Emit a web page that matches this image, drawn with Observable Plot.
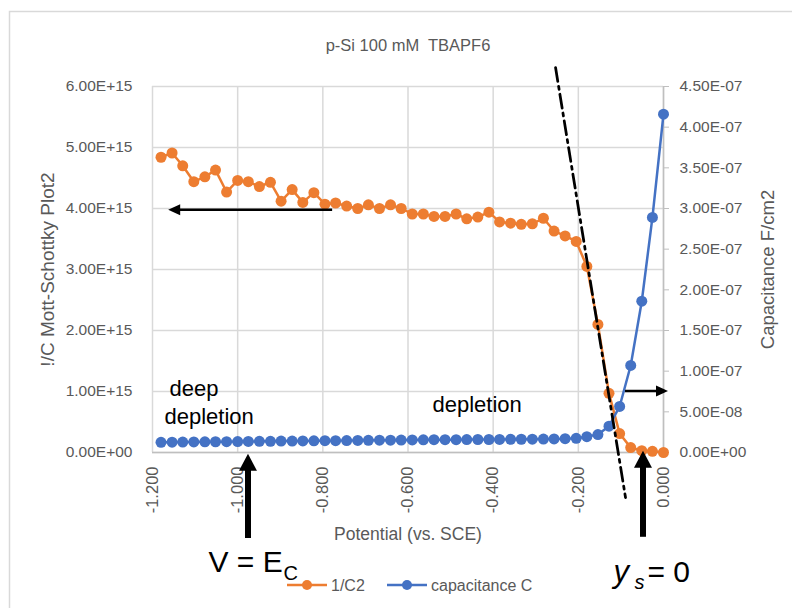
<!DOCTYPE html>
<html><head><meta charset="utf-8">
<script src="https://cdn.jsdelivr.net/npm/d3@7"></script>
<script src="https://cdn.jsdelivr.net/npm/@observablehq/plot@0.6"></script>
<style>
html,body{margin:0;padding:0;background:#fff;}
svg text{white-space:pre;}
</style></head><body><div id="chart"></div>
<script>
// ---------- data ----------
const potential = [-1.180,-1.154,-1.129,-1.103,-1.077,-1.052,-1.026,-1.000,-0.975,-0.949,-0.923,-0.898,-0.872,-0.847,-0.821,-0.795,-0.770,-0.744,-0.718,-0.693,-0.667,-0.641,-0.616,-0.590,-0.564,-0.539,-0.513,-0.487,-0.462,-0.436,-0.410,-0.385,-0.359,-0.334,-0.308,-0.282,-0.257,-0.231,-0.205,-0.180,-0.154,-0.128,-0.103,-0.077,-0.051,-0.026,0.000];
const invC2 = [4.84e15,4.91e15,4.70e15,4.44e15,4.52e15,4.63e15,4.27e15,4.46e15,4.44e15,4.36e15,4.43e15,4.12e15,4.31e15,4.10e15,4.26e15,4.07e15,4.09e15,4.04e15,4.00e15,4.06e15,4.00e15,4.06e15,4.00e15,3.91e15,3.91e15,3.87e15,3.87e15,3.91e15,3.83e15,3.86e15,3.94e15,3.78e15,3.76e15,3.74e15,3.75e15,3.84e15,3.63e15,3.55e15,3.46e15,3.05e15,2.10e15,0.97e15,0.31e15,0.08e15,0.03e15,0.02e15,0.00];
const capacitance = [1.25e-8,1.27e-8,1.28e-8,1.30e-8,1.31e-8,1.32e-8,1.33e-8,1.35e-8,1.36e-8,1.37e-8,1.38e-8,1.40e-8,1.41e-8,1.42e-8,1.44e-8,1.45e-8,1.46e-8,1.47e-8,1.48e-8,1.50e-8,1.51e-8,1.52e-8,1.53e-8,1.55e-8,1.56e-8,1.57e-8,1.58e-8,1.58e-8,1.59e-8,1.60e-8,1.60e-8,1.61e-8,1.62e-8,1.63e-8,1.64e-8,1.65e-8,1.67e-8,1.70e-8,1.75e-8,1.95e-8,2.21e-8,3.23e-8,5.66e-8,10.7e-8,18.6e-8,28.9e-8,41.6e-8];
const seriesNames = ["1/C2", "capacitance C"];
const leftTicks = [0, 1e15, 2e15, 3e15, 4e15, 5e15, 6e15];
const rightTicks = [0, 5e-8, 1e-7, 1.5e-7, 2e-7, 2.5e-7, 3e-7, 3.5e-7, 4e-7, 4.5e-7];
const xTicks = [-1.2, -1.0, -0.8, -0.6, -0.4, -0.2, 0];
const titleText = "p-Si 100 mM  TBAPF6";
const xLabel = "Potential (vs. SCE)";
const yLabel = "!/C Mott-Schottky Plot2";
const y2Label = "Capacitance F/cm2";
// dash-dot tangent line (potential, 1/C2)
const tangentLine = [{potential: -0.2535, value: 6.31e15}, {potential: -0.0892, value: -0.738e15}];
// annotation arrows (data units, tail -> tip)
const arrows = [
  {x1: -0.777, y1: 3.97e15, x2: -1.162, y2: 3.97e15, kind: "thin"},
  {x1: -0.0892, y1: 1.0e15, x2: 0.0118, y2: 1.0e15, kind: "thin"},
  {x1: -0.9746, y1: -1.41e15, x2: -0.9746, y2: -0.03e15, kind: "thick"},
  {x1: -0.047, y1: -1.39e15, x2: -0.047, y2: 0.02e15, kind: "thick"}
];
// annotation texts (data units; y = baseline)
const notes = [
  {text: "deep", x: -1.160, y: 0.934e15, kind: "mid"},
  {text: "depletion", x: -1.1718, y: 0.475e15, kind: "mid"},
  {text: "depletion", x: -0.5424, y: 0.672e15, kind: "mid"},
  {text: "V = E", x: -1.0685, y: -1.951e15, kind: "big"},
  {text: "C", x: -0.8924, y: -2.098e15, kind: "sub"},
  {text: "y", x: -0.1174, y: -2.115e15, kind: "bigItalic"},
  {text: "s", x: -0.0681, y: -2.23e15, kind: "subItalic"},
  {text: "= 0", x: -0.0376, y: -2.115e15, kind: "big"}
];

// ---------- styles ----------
const FONT = "'Liberation Sans', Arial, sans-serif";
const ORANGE = "#ED7D31", BLUE = "#4472C4", GRID = "#d9d9d9", AXIS = "#bfbfbf", TXT = "#595959";
const K = 6e15 / 4.5e-7; // secondary -> primary units
const arrowStyle = {thin: {width: 2.5, head: 12, headWidth: 11}, thick: {width: 6, head: 17, headWidth: 18}};
const noteStyle = {
  mid: {fontSize: 22, fontStyle: "normal"},
  big: {fontSize: 30, fontStyle: "normal"},
  sub: {fontSize: 20, fontStyle: "normal"},
  bigItalic: {fontSize: 31, fontStyle: "italic"},
  subItalic: {fontSize: 20, fontStyle: "italic"}
};

function fmtExp(v) {
  if (Math.abs(v) < 1e-30) return "0.00E+00";
  const [m, e] = v.toExponential(2).split("e");
  const n = +e;
  return m + "E" + (n < 0 ? "-" : "+") + String(Math.abs(n)).padStart(2, "0");
}

const rows = potential.map((p, i) => ({potential: p, inv: invC2[i], cap: capacitance[i]}));

function borderMark() {
  const g = d3.create("svg:g");
  g.append("rect").attr("x", 9.5).attr("y", 11.5).attr("width", 900).attr("height", 900)
    .attr("fill", "none").attr("stroke", GRID).attr("stroke-width", 1.5);
  return g.node();
}

function arrowsMark(index, scales) {
  const g = d3.create("svg:g");
  for (const a of arrows) {
    const s = arrowStyle[a.kind];
    const x1 = scales.x(a.x1), y1 = scales.y(a.y1), x2 = scales.x(a.x2), y2 = scales.y(a.y2);
    const dx = x2 - x1, dy = y2 - y1, L = Math.hypot(dx, dy), ux = dx / L, uy = dy / L;
    const bx = x2 - ux * s.head, by = y2 - uy * s.head, hw = s.headWidth / 2;
    g.append("line").attr("x1", x1).attr("y1", y1).attr("x2", bx + ux * 1).attr("y2", by + uy * 1)
      .attr("stroke", "black").attr("stroke-width", s.width);
    g.append("path")
      .attr("d", `M${x2},${y2}L${bx - uy * hw},${by + ux * hw}L${bx + uy * hw},${by - ux * hw}Z`)
      .attr("fill", "black");
  }
  return g.node();
}

function legendMark() {
  const g = d3.create("svg:g").attr("font-family", FONT).attr("font-size", 16).attr("fill", TXT)
    .attr("text-anchor", "start");
  const colors = [ORANGE, BLUE];
  const starts = [287, 387];
  const yy = 585;
  seriesNames.forEach((name, i) => {
    const x0 = starts[i];
    g.append("line").attr("x1", x0).attr("x2", x0 + 40).attr("y1", yy).attr("y2", yy)
      .attr("stroke", colors[i]).attr("stroke-width", 2.5);
    g.append("circle").attr("cx", x0 + 20).attr("cy", yy).attr("r", 5).attr("fill", colors[i]);
    g.append("text").attr("x", x0 + 44).attr("y", yy).attr("dy", "0.35em").attr("text-anchor", "start").text(name);
  });
  return g.node();
}

const noteMarks = Object.keys(noteStyle).map(k =>
  Plot.text(notes.filter(d => d.kind === k), {
    x: "x", y: "y", text: "text", textAnchor: "start", lineAnchor: "bottom",
    fontSize: noteStyle[k].fontSize, fontStyle: noteStyle[k].fontStyle, fill: "black", fontFamily: FONT
  })
);

const chart = Plot.plot({
  width: 792, height: 608,
  marginLeft: 152, marginRight: 129, marginTop: 86, marginBottom: 156,
  x: {domain: [-1.2, 0]},
  y: {domain: [0, 6e15]},
  style: {fontFamily: FONT, fontSize: "15.5px", color: TXT, background: "white", overflow: "visible"},
  marks: [
    borderMark,
    Plot.gridY(leftTicks, {stroke: GRID, strokeOpacity: 1, strokeWidth: 1.5}),
    Plot.gridX(xTicks, {stroke: GRID, strokeOpacity: 1, strokeWidth: 1.5}),
    Plot.ruleY([0], {stroke: AXIS, strokeWidth: 1.5}),
    Plot.ruleX([0], {stroke: AXIS, strokeWidth: 1.5}),
    Plot.axisY(leftTicks, {anchor: "left", tickSize: 0, tickPadding: 20, tickFormat: fmtExp, label: null}),
    Plot.axisY(rightTicks.map(v => v * K), {anchor: "right", tickSize: 5, tickPadding: 11, tickFormat: v => fmtExp(v / K), label: null, stroke: AXIS}),
    Plot.axisX(xTicks, {anchor: "bottom", tickSize: 0, tickPadding: 14, tickRotate: -90, tickFormat: v => v.toFixed(3), label: null, fontSize: 16.5}),
    Plot.line(rows, {x: "potential", y: "inv", stroke: ORANGE, strokeWidth: 2.5}),
    Plot.dot(rows, {x: "potential", y: "inv", r: 5.5, fill: ORANGE}),
    Plot.line(rows, {x: "potential", y: d => d.cap * K, stroke: BLUE, strokeWidth: 2.5}),
    Plot.dot(rows, {x: "potential", y: d => d.cap * K, r: 5.5, fill: BLUE}),
    Plot.line(tangentLine, {x: "potential", y: "value", stroke: "black", strokeWidth: 2.75, strokeDasharray: "14,5,3,5"}),
    arrowsMark,
    ...noteMarks,
    Plot.text([titleText], {text: d => d, frameAnchor: "top", dy: -41, lineAnchor: "middle", textAnchor: "middle", fontSize: 16.5, fill: TXT}),
    Plot.text([xLabel], {text: d => d, frameAnchor: "bottom", dy: 82, lineAnchor: "middle", textAnchor: "middle", fontSize: 17.5, fill: TXT}),
    Plot.text([yLabel], {text: d => d, frameAnchor: "left", dx: -105, rotate: -90, lineAnchor: "middle", textAnchor: "middle", fontSize: 19, fill: TXT}),
    Plot.text([y2Label], {text: d => d, frameAnchor: "right", dx: 105, rotate: -90, lineAnchor: "middle", textAnchor: "middle", fontSize: 18.5, fill: TXT}),
    legendMark
  ]
});
document.getElementById("chart").append(chart);
</script></body></html>
